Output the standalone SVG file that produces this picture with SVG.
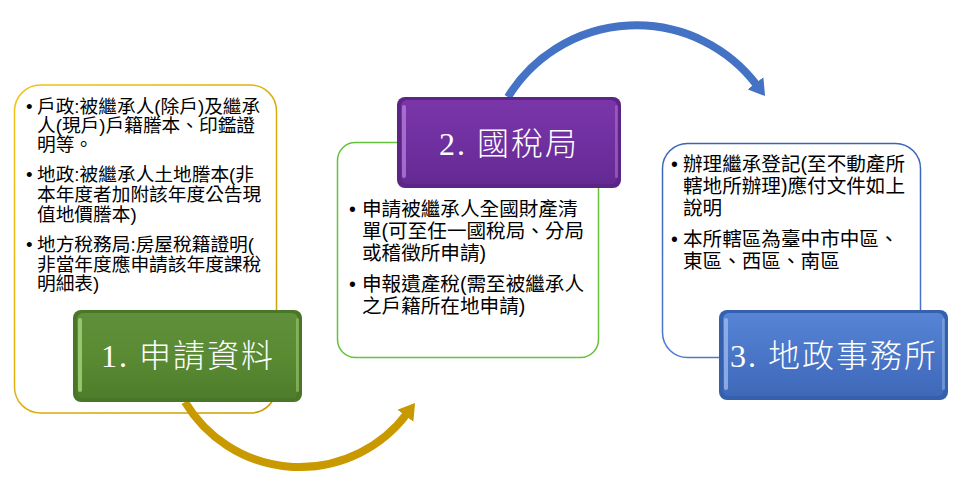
<svg xmlns="http://www.w3.org/2000/svg" width="966" height="493" viewBox="0 0 966 493">
<defs>
<style>
.body1{font-family:"Liberation Sans","Noto Sans CJK TC",sans-serif;font-size:18.7px;fill:#000}
.body2{font-family:"Liberation Sans","Noto Sans CJK TC",sans-serif;font-size:19.6px;fill:#000}
.lbl{font-family:"Liberation Serif","Noto Sans CJK TC",serif;font-size:32px;font-weight:300;fill:#fff;letter-spacing:2px;text-anchor:middle}
.conn{fill:none;stroke-width:8}
</style>
<linearGradient id="gY" x1="0" y1="0" x2="1" y2="1"><stop offset="0" stop-color="#f0c419"/><stop offset="1" stop-color="#c99a00"/></linearGradient>
<linearGradient id="gG" x1="0" y1="0" x2="0" y2="1"><stop offset="0" stop-color="#68a03a"/><stop offset="1" stop-color="#4f8a2a"/></linearGradient>
<linearGradient id="gB" x1="0" y1="0" x2="0" y2="1"><stop offset="0" stop-color="#3a64b8"/><stop offset="1" stop-color="#4a7ad0"/></linearGradient>
<linearGradient id="lG" x1="0" y1="0" x2="0" y2="1"><stop offset="0" stop-color="#5f8f3a"/><stop offset="0.5" stop-color="#5a8b33"/><stop offset="1" stop-color="#4e7d2b"/></linearGradient>
<linearGradient id="lP" x1="0" y1="0" x2="0" y2="1"><stop offset="0" stop-color="#7a36a8"/><stop offset="0.5" stop-color="#7030a0"/><stop offset="1" stop-color="#642a92"/></linearGradient>
<linearGradient id="lB" x1="0" y1="0" x2="0" y2="1"><stop offset="0" stop-color="#5784d4"/><stop offset="0.5" stop-color="#4a76c8"/><stop offset="1" stop-color="#3f68b8"/></linearGradient>
<marker id="hGold" markerUnits="userSpaceOnUse" viewBox="0 0 16 20" markerWidth="16" markerHeight="20" refX="2" refY="10" orient="auto"><path d="M0,0 L16,10 L0,20 Z" fill="#c99a00"/></marker>
<marker id="hBlue" markerUnits="userSpaceOnUse" viewBox="0 0 16 20" markerWidth="16" markerHeight="20" refX="2" refY="10" orient="auto"><path d="M0,0 L16,10 L0,20 Z" fill="#4472c4"/></marker>
</defs>
<rect width="966" height="493" fill="#fff"/>

<g id="node1">
<rect x="14.5" y="85" width="262" height="328" rx="26" fill="#fff" stroke="url(#gY)" stroke-width="1.5"/>
<text class="body1" x="26" y="113">•</text>
<text class="body1" x="37" y="113">戶政:被繼承人(除戶)及繼承</text>
<text class="body1" x="37" y="132">人(現戶)戶籍謄本、印鑑證</text>
<text class="body1" x="37" y="151">明等。</text>
<text class="body1" x="26" y="181">•</text>
<text class="body1" x="37" y="181">地政:被繼承人土地謄本(非</text>
<text class="body1" x="37" y="201">本年度者加附該年度公告現</text>
<text class="body1" x="37" y="221">值地價謄本)</text>
<text class="body1" x="26" y="251">•</text>
<text class="body1" x="37" y="251">地方稅務局:房屋稅籍證明(</text>
<text class="body1" x="37" y="271">非當年度應申請該年度課稅</text>
<text class="body1" x="37" y="290">明細表)</text>
</g>

<g id="node2">
<rect x="337.5" y="142.5" width="261" height="215" rx="18" fill="#fff" stroke="#66c23a" stroke-width="1.5"/>
<text class="body2" x="349" y="216">•</text>
<text class="body2" x="362" y="216">申請被繼承人全國財產清</text>
<text class="body2" x="362" y="238">單(可至任一國稅局、分局</text>
<text class="body2" x="362" y="260">或稽徵所申請)</text>
<text class="body2" x="349" y="291">•</text>
<text class="body2" x="362" y="291">申報遺產稅(需至被繼承人</text>
<text class="body2" x="362" y="313">之戶籍所在地申請)</text>
</g>

<g id="node3">
<rect x="662.5" y="143.5" width="258" height="214" rx="25" fill="#fff" stroke="url(#gB)" stroke-width="1.5"/>
<text class="body2" x="671" y="171">•</text>
<text class="body2" x="683" y="171">辦理繼承登記(至不動產所</text>
<text class="body2" x="683" y="193">轄地所辦理)應付文件如上</text>
<text class="body2" x="683" y="215">說明</text>
<text class="body2" x="671" y="246">•</text>
<text class="body2" x="683" y="246">本所轄區為臺中市中區、</text>
<text class="body2" x="683" y="268">東區、西區、南區</text>
</g>

<g id="connectors">
<path class="conn" d="M185,402 A134,134 0 0 0 406.6,414.2" stroke="#c99a00" marker-end="url(#hGold)"/>
<path class="conn" d="M508,97 A151,151 0 0 1 756.6,84.9" stroke="#4472c4" marker-end="url(#hBlue)"/>
</g>

<g id="label1">
<rect x="73" y="310" width="229" height="92" rx="8" fill="#4a7628"/>
<rect x="77" y="313" width="221" height="85" rx="6" fill="url(#lG)"/>
<rect x="78" y="318" width="4" height="74" rx="2" fill="#a6d47a" opacity="0.8"/>
<rect x="296" y="318" width="3" height="74" rx="1.5" fill="#9ccc70" opacity="0.6"/>
<text class="lbl" x="188" y="367">1. 申請資料</text>
</g>

<g id="label2">
<rect x="397" y="97" width="224" height="91" rx="8" fill="#5c2487"/>
<rect x="401" y="100" width="216" height="84" rx="6" fill="url(#lP)"/>
<rect x="402" y="105" width="4" height="73" rx="2" fill="#b27ad8" opacity="0.8"/>
<rect x="615" y="105" width="3" height="73" rx="1.5" fill="#a870d0" opacity="0.6"/>
<text class="lbl" x="509" y="155">2. 國稅局</text>
</g>

<g id="label3">
<rect x="719" y="310" width="229" height="90" rx="8" fill="#3460ad"/>
<rect x="723" y="313" width="221" height="83" rx="6" fill="url(#lB)"/>
<rect x="724" y="318" width="4" height="72" rx="2" fill="#9ab8ec" opacity="0.8"/>
<rect x="942" y="318" width="3" height="72" rx="1.5" fill="#8aaee6" opacity="0.6"/>
<text class="lbl" x="834" y="367">3. 地政事務所</text>
</g>
</svg>
